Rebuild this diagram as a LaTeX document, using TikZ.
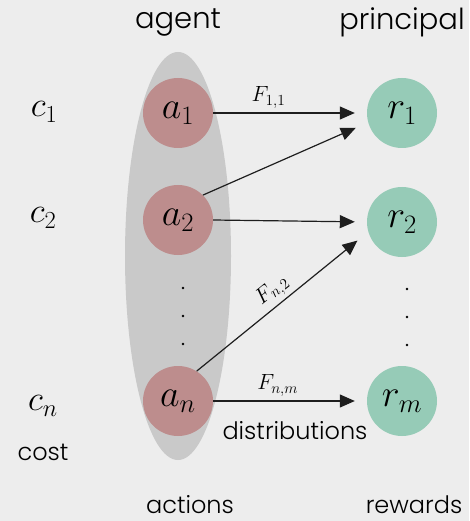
\RequirePackage{fix-cm}
\documentclass[tikz,border=0pt]{standalone}
\usepackage{amsmath,amssymb}
\usepackage{fontspec}
\setmainfont{Poppins}[UprightFont={* Light}]
\usepackage{tikz}
\usetikzlibrary{calc,arrows.meta,positioning}

\definecolor{bggray}{HTML}{EDEDED}
\definecolor{ellgray}{HTML}{C9C9C9}
\definecolor{actred}{HTML}{BD8D8D}
\definecolor{rewgreen}{HTML}{96CBB7}
\definecolor{arrowgray}{HTML}{1E1E1E}

\begin{document}
\begin{tikzpicture}[x=1pt,y=-1pt,
        action/.style={circle, fill=actred, minimum size=70pt, inner sep=0pt, font=\fontsize{38}{42}\selectfont},
        reward/.style={circle, fill=rewgreen, minimum size=70pt, inner sep=0pt, font=\fontsize{38}{42}\selectfont},
        heading/.style={font=\fontsize{24}{28}\selectfont},
        title/.style={font=\fontsize{29}{32}\selectfont},
        costlabel/.style={font=\fontsize{35}{38}\selectfont},
        flow/.style={-{Triangle[length=15pt,width=13pt]}, line width=1.2pt, draw=arrowgray, shorten >=12pt},
        dist/.style={font=\fontsize{22}{26}\selectfont}]
        % Background and the agent's set of actions
        \useasboundingbox[fill=bggray] (0,0) rectangle (469,521);
        \fill[ellgray] (178,256) ellipse [x radius=53, y radius=204];

        % Define nodes for actions and rewards
        \node[action] (a1) at (178,113) {$a_1$};
        \node[action] (a2) at (178,220) {$a_2$};
        \node[action] (an) at (178,401) {$a_n$};
        \node[reward] (r1) at (402,113) {$r_1$};
        \node[reward] (r2) at (402,222) {$r_2$};
        \node[reward] (rm) at (402,401) {$r_m$};

        % Dots between the rows
        \foreach \y in {288,316,344} {
            \fill (183,\y) circle (1.3pt);
            \fill (407,\y+1) circle (1.3pt);
        }

        % Draw arrows and labels
        \draw[flow] (a1.east) -- (r1.west) node[pos=0.36,above=1pt,dist] {$F_{1,1}$};
        \draw[flow] (a2.45) -- ($(r1.west)+(0,10)$);
        \draw[flow] (a2.east) -- (r2.west);
        \draw[flow] (an.58) -- ($(r2.west)+(0,11)$) node[pos=0.5,above,sloped,dist] {$F_{n,2}$};
        \draw[flow] (an.east) -- (rm.west) node[pos=0.42,above=1pt,dist] {$F_{n,m}$};

        % Labels for costs and headings
        \node[costlabel] (c1) at (44,112) {$c_1$};
        \node[costlabel] (c2) at (43,218) {$c_2$};
        \node[costlabel] (cn) at (43,406) {$c_n$};
        \node[heading] (cost) at (43,452) {cost};
        \node[title] (agent) at (178,22) {agent};
        \node[title] (principal) at (402,22) {principal};
        \node[heading] (dists) at (295,431) {distributions};
        \node[heading] (actions) at (190,505) {actions};
        \node[heading] (rewards) at (414,505) {rewards};
    \end{tikzpicture}
\end{document}
